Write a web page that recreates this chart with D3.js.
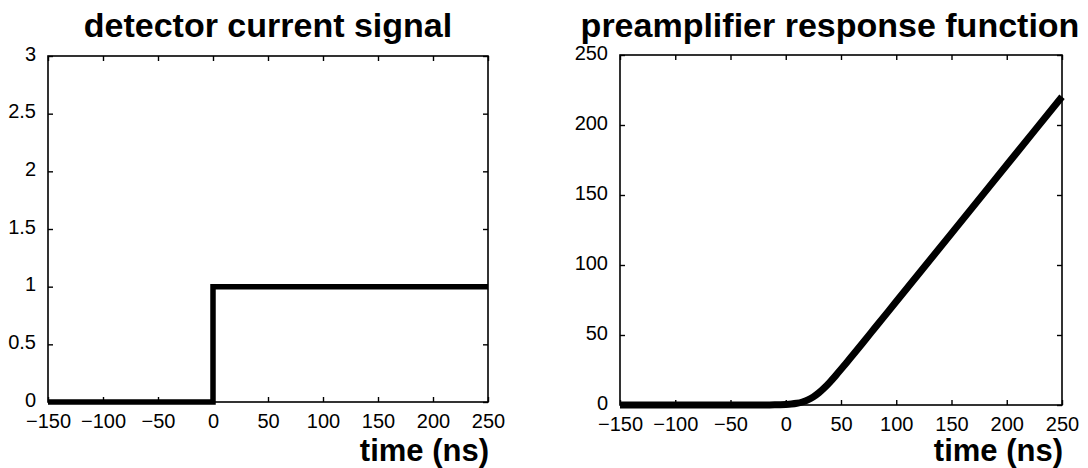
<!DOCTYPE html>
<html>
<head>
<meta charset="utf-8">
<script src="https://cdn.jsdelivr.net/npm/d3@7"></script>
<style>
html,body{margin:0;padding:0;background:#fff;}
svg{display:block;font-family:"Liberation Sans",Arial,Helvetica,sans-serif;}
</style>
</head>
<body>
<svg id="chart" width="1088" height="468"></svg>
<script>
// ---- data ----
const timeTicks = [-150, -100, -50, 0, 50, 100, 150, 200, 250];
const currentTicks = [0, 0.5, 1, 1.5, 2, 2.5, 3];
const responseTicks = [0, 50, 100, 150, 200, 250];

const stepTime = [-150, 0, 0, 250];
const stepCurrent = [0, 0, 1, 1];

const respTime  = [-150, -100, -50, -20, -10, -5, 0, 5, 10, 15, 20, 25, 30, 35, 40, 45, 50, 55, 60, 70, 80, 100, 150, 200, 250];
const respValue = [0, 0, 0, 0.05, 0.1, 0.2, 0.37, 0.68, 1.22, 2.15, 3.62, 5.81, 8.74, 12.33, 16.42, 20.84, 25.46, 30.19, 34.99, 44.68, 54.41, 73.9, 122.6, 171.4, 220.2];

const titles = ["detector current signal", "preamplifier response function"];
const xLabel = "time (ns)";

// ---- drawing ----
const svg = d3.select("#chart");
const FONT = '"Liberation Sans",Arial,Helvetica,sans-serif';

function panel(cfg) {
  const g = svg.append("g");
  const x = d3.scaleLinear().domain([-150, 250]).range([cfg.left, cfg.right]);
  const y = d3.scaleLinear().domain(cfg.yDomain).range([cfg.bottom, cfg.top]);
  const tl = 5;

  const pts = cfg.xs.map((d, i) => [d, cfg.ys[i]]);
  const line = d3.line().x(d => x(d[0])).y(d => y(d[1]));
  if (cfg.curve) line.curve(cfg.curve);

  // frame
  g.append("rect")
    .attr("x", cfg.left).attr("y", cfg.top)
    .attr("width", cfg.right - cfg.left).attr("height", cfg.bottom - cfg.top)
    .attr("fill", "none").attr("stroke", "#000").attr("stroke-width", 1.6);

  const fmt = d3.format("");
  const axB = d3.axisBottom(x).tickValues(timeTicks).tickSizeInner(-tl).tickSizeOuter(0).tickPadding(12).tickFormat(fmt);
  const axT = d3.axisTop(x).tickValues(timeTicks).tickSizeInner(-tl).tickSizeOuter(0).tickFormat("");
  const axL = d3.axisLeft(y).tickValues(cfg.yTicks).tickSizeInner(-tl).tickSizeOuter(0).tickPadding(cfg.yPad).tickFormat(fmt);
  const axR = d3.axisRight(y).tickValues(cfg.yTicks).tickSizeInner(-tl).tickSizeOuter(0).tickFormat("");

  const gb = g.append("g").attr("transform", `translate(0,${cfg.bottom})`).call(axB);
  const gt = g.append("g").attr("transform", `translate(0,${cfg.top})`).call(axT);
  const gl = g.append("g").attr("transform", `translate(${cfg.left},0)`).call(axL);
  const gr = g.append("g").attr("transform", `translate(${cfg.right},0)`).call(axR);
  [gb, gt, gl, gr].forEach(a => {
    a.attr("font-size", 20).attr("font-family", FONT);
    a.select(".domain").remove();
    a.selectAll(".tick line").attr("stroke", "#000").attr("stroke-width", 1.4);
    a.selectAll("text").attr("fill", "#000").attr("font-size", 20).attr("font-family", FONT);
  });
  gb.selectAll("text").attr("dy", "0.71em");
  gl.selectAll("text").attr("dy", "0.2em");

  g.append("path").datum(pts)
    .attr("d", line)
    .attr("fill", "none").attr("stroke", "#000")
    .attr("stroke-width", cfg.lw).attr("stroke-linejoin", "miter").attr("stroke-linecap", "butt");

  g.append("text").attr("x", cfg.titleX).attr("y", 37)
    .attr("text-anchor", "middle").attr("font-weight", "bold").attr("font-size", 34)
    .attr("font-family", FONT)
    .text(cfg.title);

  g.append("text").attr("x", cfg.right + 1).attr("y", 461)
    .attr("text-anchor", "end").attr("font-weight", "bold").attr("font-size", 31)
    .attr("font-family", FONT)
    .text(xLabel);
}

panel({
  left: 48, right: 488, top: 56, bottom: 402,
  yDomain: [0, 3], yTicks: currentTicks, yPad: 12,
  xs: stepTime, ys: stepCurrent, lw: 5.5,
  title: titles[0], titleX: 268
});

panel({
  left: 620, right: 1062, top: 55, bottom: 405,
  yDomain: [0, 250], yTicks: responseTicks, yPad: 12,
  xs: respTime, ys: respValue, lw: 7, curve: d3.curveMonotoneX,
  title: titles[1], titleX: 830
});
</script>
</body>
</html>
